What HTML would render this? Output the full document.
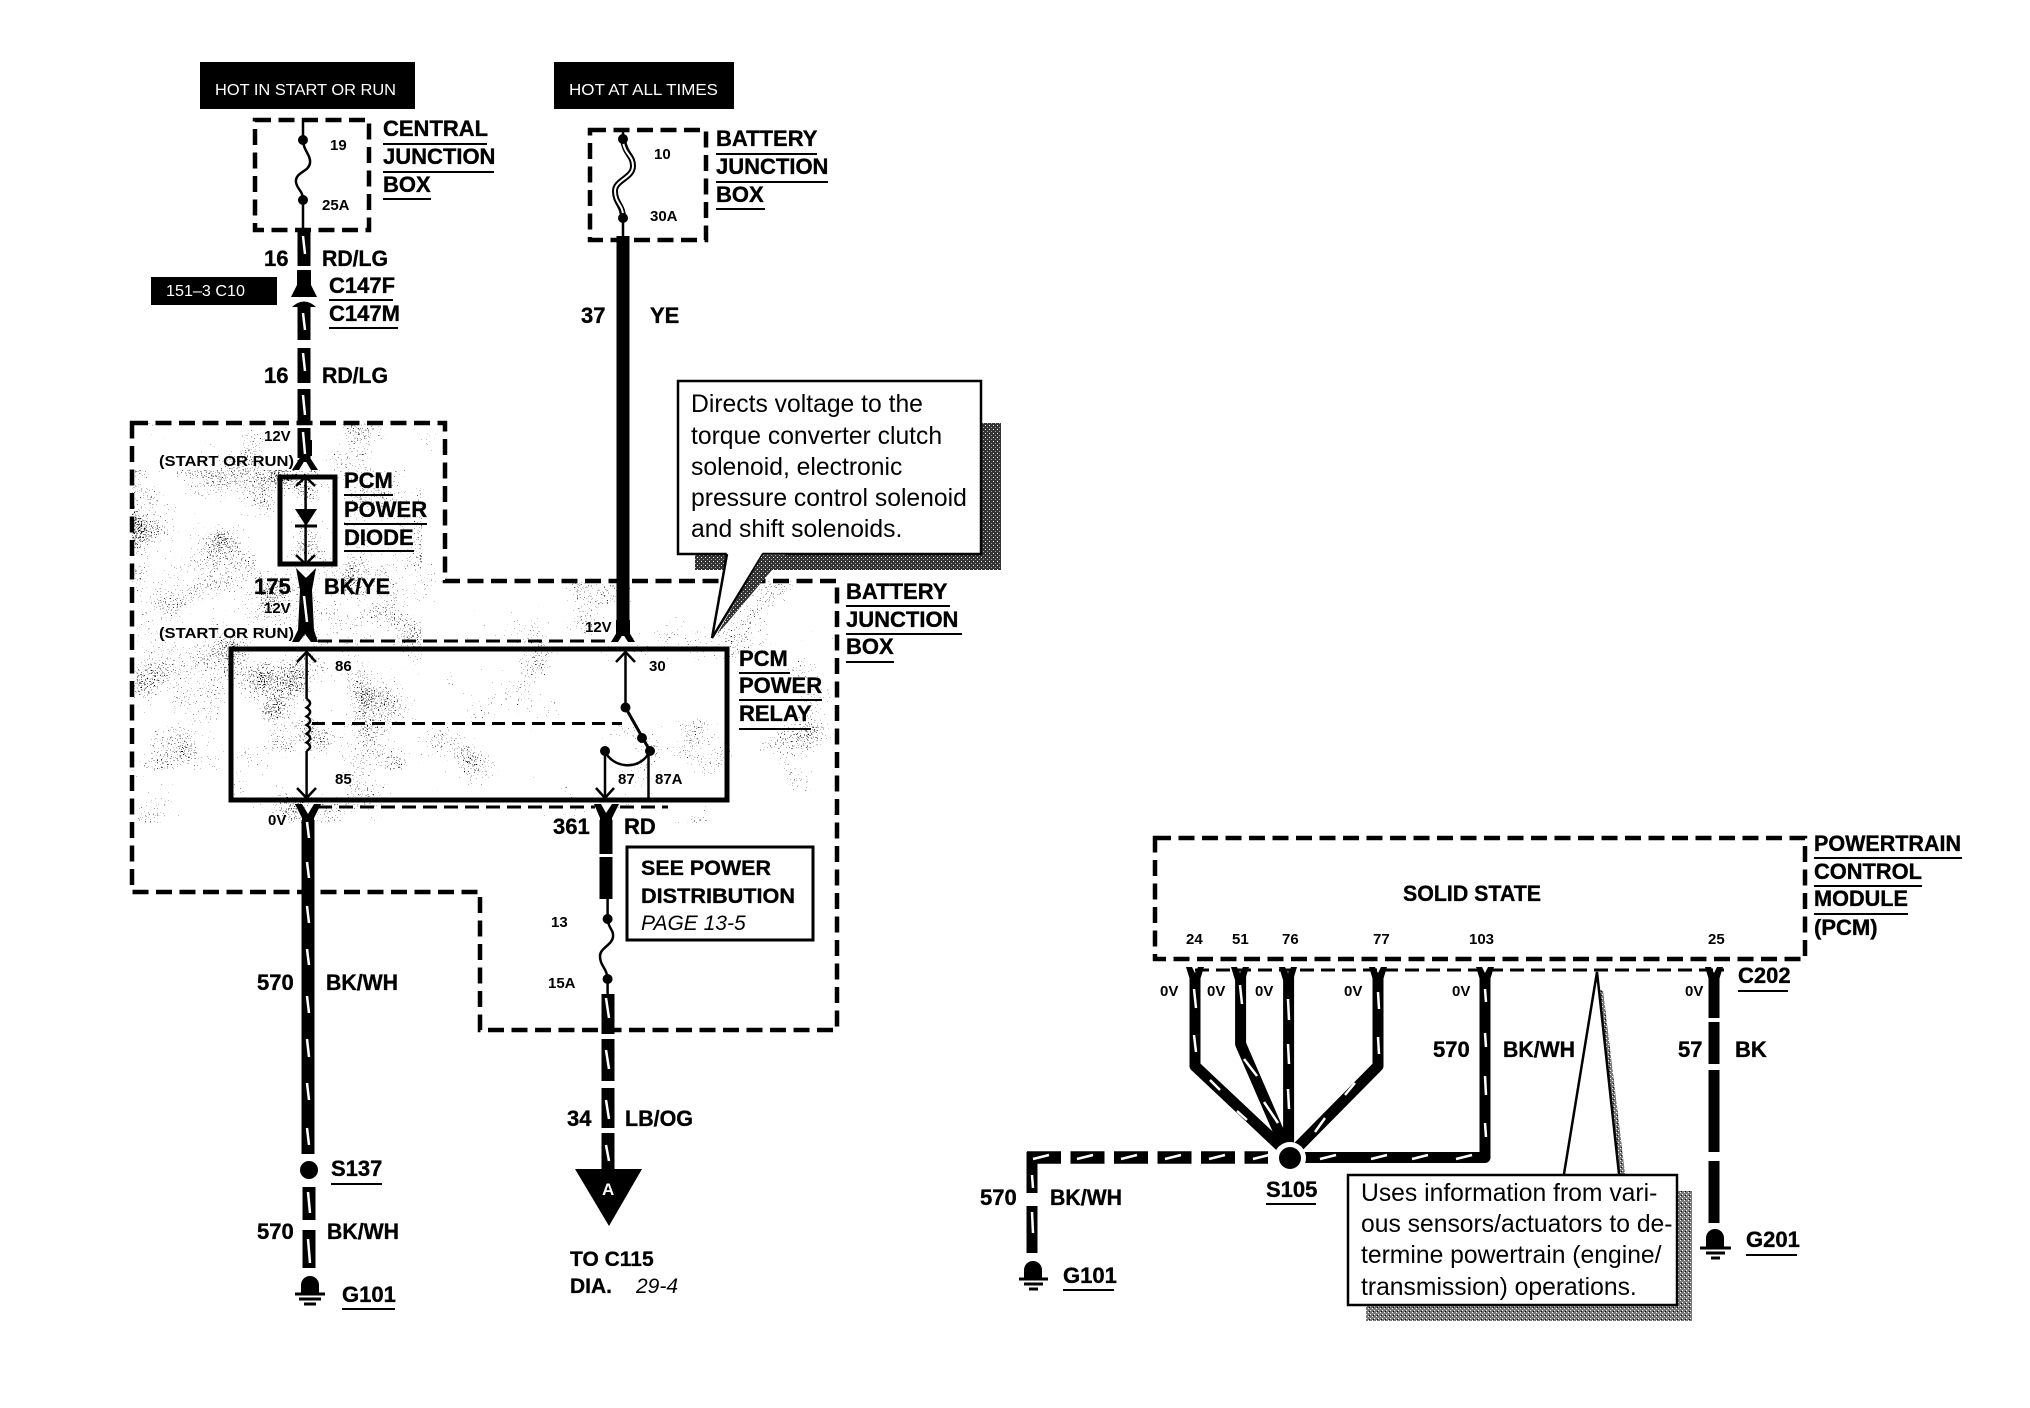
<!DOCTYPE html>
<html><head><meta charset="utf-8"><style>
html,body{margin:0;padding:0;background:#fff}
svg{display:block}
text{font-family:"Liberation Sans",sans-serif;fill:#000}
.b{font-weight:700;font-size:22px;stroke:#000;stroke-width:.35}
.m{font-weight:700;font-size:21px;stroke:#000;stroke-width:.3}
.s{font-weight:700;font-size:15px}
.h{font-size:16px;fill:#fff}
.c{font-size:24.7px}
.i{font-style:italic;font-size:21px}
.w{fill:none;stroke:#000;stroke-width:13}
.d{fill:none;stroke:#000;stroke-width:4.5;stroke-dasharray:16 7.5}
.t{fill:none;stroke:#000;stroke-width:3;stroke-dasharray:14 7}
.l{fill:none;stroke:#000;stroke-width:2.5}
.u{fill:none;stroke:#000;stroke-width:2}
</style></head><body>
<svg width="2030" height="1408" viewBox="0 0 2030 1408" xmlns="http://www.w3.org/2000/svg">
<defs>
<filter id="n1" x="0" y="0" width="100%" height="100%" color-interpolation-filters="sRGB">
<feTurbulence type="fractalNoise" baseFrequency=".7" numOctaves="2" seed="3" result="hi"/>
<feTurbulence type="fractalNoise" baseFrequency=".018" numOctaves="2" seed="11" result="lo"/>
<feComposite in="hi" in2="lo" operator="arithmetic" k2=".6" k3=".4"/>
<feColorMatrix values="0 0 0 0 0  0 0 0 0 0  0 0 0 0 0  0 0 0 60 -42.5"/>
</filter>
<filter id="n2" x="0" y="0" width="100%" height="100%" color-interpolation-filters="sRGB">
<feTurbulence type="fractalNoise" baseFrequency=".7" numOctaves="2" seed="7" result="hi"/>
<feTurbulence type="fractalNoise" baseFrequency=".02" numOctaves="2" seed="5" result="lo"/>
<feComposite in="hi" in2="lo" operator="arithmetic" k2=".6" k3=".4"/>
<feColorMatrix values="0 0 0 0 0  0 0 0 0 0  0 0 0 0 0  0 0 0 60 -39.5"/>
</filter>
<pattern id="dk" width="4" height="4" patternUnits="userSpaceOnUse"><rect width="4" height="4" fill="#333"/><rect x="1" y="1" width="1" height="1" fill="#fff"/><rect x="3" y="3" width="1" height="1" fill="#aaa"/></pattern>
<pattern id="md" width="4" height="4" patternUnits="userSpaceOnUse"><rect width="4" height="4" fill="#777"/><rect x="0" y="0" width="1" height="1" fill="#fff"/><rect x="2" y="2" width="1" height="1" fill="#fff"/><rect x="1" y="3" width="1" height="1" fill="#000"/></pattern>
<clipPath id="reg"><path d="M132 423H445V581H837V1030H480V892H132Z"/></clipPath>
</defs>

<!-- stipple -->
<g clip-path="url(#reg)">
<rect x="132" y="423" width="705" height="400" filter="url(#n1)"/>
<rect x="132" y="470" width="290" height="300" filter="url(#n2)"/>
</g>

<!-- hot boxes -->
<rect x="200" y="62" width="215" height="47" fill="#000"/>
<text class="h" x="215" y="95" textLength="181" lengthAdjust="spacingAndGlyphs">HOT IN START OR RUN</text>
<rect x="554" y="62" width="180" height="47" fill="#000"/>
<text class="h" x="569" y="95" textLength="149" lengthAdjust="spacingAndGlyphs">HOT AT ALL TIMES</text>

<!-- central JB -->
<rect x="255" y="120" width="114" height="110" class="d"/>
<path class="l" d="M303 118V140C303 150 311 155 310 163C309 172 295 172 296 182C297 190 303 190 303 200V232"/>
<circle cx="303" cy="140" r="5"/><circle cx="303" cy="200" r="5"/>
<text class="s" x="330" y="150">19</text><text class="s" x="322" y="210">25A</text>
<text class="b" x="383" y="136">CENTRAL</text><path class="u" d="M383 144H487"/>
<text class="b" x="383" y="164">JUNCTION</text><path class="u" d="M383 172H494"/>
<text class="b" x="383" y="192">BOX</text><path class="u" d="M383 199H431"/>

<!-- battery JB -->
<rect x="590" y="130" width="116" height="110" class="d"/>
<path fill="none" stroke="#000" stroke-width="6" d="M623 139C625 155 633 155 633 166C633 178 615 180 615 191C615 203 623 205 623 218"/>
<path fill="none" stroke="#fff" stroke-width="2" d="M623 142C625 155 633 155 633 166C633 178 615 180 615 191C615 203 623 205 623 215"/>
<path class="l" d="M623 128V139M623 218V240"/>
<circle cx="623" cy="139" r="5"/><circle cx="623" cy="218" r="5"/>
<text class="s" x="654" y="159">10</text><text class="s" x="650" y="221">30A</text>
<text class="b" x="716" y="146">BATTERY</text><path class="u" d="M716 154H817"/>
<text class="b" x="716" y="174">JUNCTION</text><path class="u" d="M716 182H828"/>
<text class="b" x="716" y="202">BOX</text><path class="u" d="M716 209H765"/>

<!-- wire 16 -->
<path class="w" d="M304 230V266M304 275V297M304 303V340M304 348V383M304 389V422M304 428V458"/>
<path d="M297 270H311V285L317 297H291L297 285Z"/><path d="M292 307Q304 296 316 307L310 307V314H298V307Z" fill="#000"/>
<rect x="288" y="297" width="32" height="3" fill="#fff"/>
<text class="b" x="264" y="266">16</text><text class="b" x="322" y="266" textLength="66" lengthAdjust="spacingAndGlyphs">RD/LG</text>
<rect x="151" y="277" width="126" height="28"/>
<text x="166" y="296" class="h" textLength="79" lengthAdjust="spacingAndGlyphs">151–3 C10</text>
<text class="b" x="329" y="293">C147F</text><path class="u" d="M329 300H393"/>
<text class="b" x="329" y="321">C147M</text><path class="u" d="M329 328H398"/>
<text class="b" x="264" y="383">16</text><text class="b" x="322" y="383" textLength="66" lengthAdjust="spacingAndGlyphs">RD/LG</text>

<!-- battery wire -->
<path class="w" stroke-width="14" d="M623 236V632"/>
<path d="M623 622L635 642H628L623 634L618 642H611Z M616 620H630V636H616Z"/>
<text class="b" x="581" y="323">37</text><text class="b" x="650" y="323">YE</text>
<text class="s" x="585" y="632">12V</text>

<!-- shaded dashed region -->
<path class="d" d="M132 423H445V581H837V1030H480V892H132Z"/>

<!-- callout 1 -->
<rect x="695" y="423" width="306" height="147" fill="url(#dk)"/>
<rect x="678" y="381" width="303" height="173" fill="#fff" stroke="#000" stroke-width="2.5"/>
<path d="M727 552L712 638L763 552Z" fill="#fff"/><path class="l" d="M727 554L712 638L763 554"/>
<path d="M763 554L716 636L772 570H786V554Z" fill="url(#dk)"/>
<text class="c" x="691" y="412">Directs voltage to the</text>
<text class="c" x="691" y="444">torque converter clutch</text>
<text class="c" x="691" y="475">solenoid, electronic</text>
<text class="c" x="691" y="506">pressure control solenoid</text>
<text class="c" x="691" y="537">and shift solenoids.</text>

<!-- left labels in region -->
<text class="s" x="264" y="441">12V</text>
<text class="s" x="159" y="466" textLength="135" lengthAdjust="spacingAndGlyphs">(START OR RUN)</text>
<path class="w" d="M304 460V462"/>
<path d="M305 450L318 470H311L305 460L299 470H292Z M298 440H312V456H298Z"/>
<rect x="280" y="477" width="55" height="87" fill="none" stroke="#000" stroke-width="5"/>
<path class="l" d="M305.600 477V562"/>
<path d="M296 486L305.600 477L315 486M296 555L305.600 564L315 555" fill="none" stroke="#000" stroke-width="2.500"/>
<path d="M295 509H317L306 526Z"/><path d="M295 526H317" stroke="#000" stroke-width="3"/>
<text class="b" x="344" y="488">PCM</text><path class="u" d="M344 495H393"/>
<text class="b" x="344" y="517">POWER</text><path class="u" d="M344 524H427"/>
<text class="b" x="344" y="545">DIODE</text><path class="u" d="M344 551H414"/>

<text class="b" x="254" y="594">175</text><text class="b" x="324" y="594" textLength="66" lengthAdjust="spacingAndGlyphs">BK/YE</text>
<path d="M296 568L306 578L316 568L312 590L314 630L318 642H311L305 634L299 642H292L298 630L300 590Z"/>
<path fill="none" stroke="#fff" stroke-width="2.500" d="M304 596l3 26"/>
<text class="s" x="264" y="613">12V</text>
<text class="s" x="159" y="638" textLength="135" lengthAdjust="spacingAndGlyphs">(START OR RUN)</text>
<path class="t" d="M318 641H610"/>

<!-- relay -->
<rect x="231" y="649" width="496" height="151" fill="none" stroke="#000" stroke-width="5"/>
<path class="l" d="M306.600 652V699M306.600 751V798M625.500 652V707M605 751V798M648.500 751V798"/>
<path class="l" d="M297 662L306.600 652L316 662M297 788L306.600 798L316 788M616 662L625.500 652L635 662M596 788L605 798L614 788"/>
<path class="l" d="M306.600 699q7 4 0 8.700q7 4 0 8.700q7 4 0 8.700q7 4 0 8.700q7 4 0 8.700q7 4 0 8.500"/>
<path fill="none" stroke="#000" stroke-width="3" stroke-dasharray="13 7" d="M312 723.500H622"/>
<path stroke="#000" stroke-width="3" d="M625.500 707.500L650 751"/>
<path class="l" d="M605 751C612 768 640 772 650 751"/>
<circle cx="625.500" cy="707.500" r="5"/><circle cx="642" cy="738" r="5"/><circle cx="650" cy="751" r="5"/><circle cx="605" cy="751" r="5"/>
<text class="s" x="335" y="671">86</text><text class="s" x="335" y="784">85</text>
<text class="s" x="649" y="671">30</text><text class="s" x="618" y="784">87</text><text class="s" x="655" y="784">87A</text>
<text class="b" x="739" y="666">PCM</text><path class="u" d="M739 673H790"/>
<text class="b" x="739" y="693">POWER</text><path class="u" d="M739 700H822"/>
<text class="b" x="739" y="721">RELAY</text><path class="u" d="M739 729H811"/>
<text class="b" x="846" y="599">BATTERY</text><path class="u" d="M846 606H950"/>
<text class="b" x="846" y="627">JUNCTION</text><path class="u" d="M846 634H962"/>
<text class="b" x="846" y="654">BOX</text><path class="u" d="M846 662H894"/>

<!-- below relay -->
<path class="t" d="M318 807H595M620 807H668"/>
<path d="M295 804H302L308 814L314 804H321L314 818V826H302V818Z"/>
<path d="M594 804H601L606 813L612 804H619L612 818V826H600V818Z"/>
<text class="s" x="268" y="825">0V</text>

<!-- 570 -->
<path class="w" d="M308 820V1154M309 1187V1220M309 1230V1268"/>
<text class="b" x="257" y="990">570</text><text class="b" x="326" y="990" textLength="72" lengthAdjust="spacingAndGlyphs">BK/WH</text>
<circle cx="309" cy="1170" r="9"/>
<text class="b" x="331" y="1176">S137</text><path class="u" d="M331 1184H382"/>
<text class="b" x="257" y="1239">570</text><text class="b" x="327" y="1239" textLength="72" lengthAdjust="spacingAndGlyphs">BK/WH</text>
<path d="M301 1293V1285A9 9 0 0 1 319 1285V1293Z"/><path stroke="#000" stroke-width="3" d="M295 1294H325M299 1299H321M304 1304H316"/>
<text class="b" x="342" y="1302">G101</text><path class="u" d="M342 1309H395"/>

<!-- 361 -->
<path class="w" d="M606 820V854M606 857V899"/>
<text class="b" x="553" y="834">361</text><text class="b" x="624" y="834">RD</text>
<rect x="627" y="847" width="186" height="93" fill="#fff" stroke="#000" stroke-width="3"/>
<text class="m" x="641" y="875" textLength="130" lengthAdjust="spacingAndGlyphs">SEE POWER</text>
<text class="m" x="641" y="903" textLength="154" lengthAdjust="spacingAndGlyphs">DISTRIBUTION</text>
<text class="i" x="641" y="930">PAGE 13-5</text>
<path class="l" d="M607.600 899V919C608 928 614 930 613 937C612 945 600 948 600 956C600 966 607 968 607.600 979V994"/>
<circle cx="607.600" cy="919" r="5"/><circle cx="607.600" cy="979" r="5"/>
<text class="s" x="551" y="927">13</text><text class="s" x="548" y="988">15A</text>
<path class="w" d="M608 994V1034M608 1039V1081M608 1088V1128M608 1133V1170"/>
<path d="M575 1169H642L609 1226Z"/>
<text x="602" y="1195" font-size="17" font-weight="700" style="fill:#fff">A</text>
<text class="b" x="567" y="1126">34</text><text class="b" x="625" y="1126" textLength="68" lengthAdjust="spacingAndGlyphs">LB/OG</text>
<text class="m" x="570" y="1266">TO C115</text>
<text class="m" x="570" y="1293">DIA.</text><text class="i" x="636" y="1293">29-4</text>

<!-- PCM -->
<rect x="1155" y="838" width="650" height="121" class="d"/>
<text class="b" x="1403" y="901" textLength="138" lengthAdjust="spacingAndGlyphs">SOLID STATE</text>
<text class="b" x="1814" y="851" textLength="147" lengthAdjust="spacingAndGlyphs">POWERTRAIN</text><path class="u" d="M1814 858H1962"/>
<text class="b" x="1814" y="879" textLength="108" lengthAdjust="spacingAndGlyphs">CONTROL</text><path class="u" d="M1814 886H1922"/>
<text class="b" x="1814" y="906" textLength="94" lengthAdjust="spacingAndGlyphs">MODULE</text><path class="u" d="M1814 914H1908"/>
<text class="b" x="1814" y="935">(PCM)</text>
<text class="s" x="1186" y="944">24</text><text class="s" x="1232" y="944">51</text><text class="s" x="1282" y="944">76</text><text class="s" x="1373" y="944">77</text><text class="s" x="1469" y="944">103</text><text class="s" x="1708" y="944">25</text>
<path class="t" d="M1195 970H1724"/>

<!-- pcm wires -->
<g fill="none" stroke="#000" stroke-width="11" stroke-linejoin="round">
<path d="M1195 975V1066L1280 1146"/>
<path d="M1240.600 975V1044L1284 1144"/>
<path d="M1288.600 975V1150"/>
<path d="M1378 975V1066L1298 1147"/>
<path d="M1485 975V1157.500H1300"/>
<path d="M1714 975V1018M1714 1022V1064M1714 1070V1152M1714 1161V1223"/>
</g>
<path d="M1186 967H1192L1195 973L1198 967H1204L1200 980H1190Z M1231 967H1237L1240 973L1243 967H1249L1245 980H1235Z M1279 967H1285L1288 973L1291 967H1297L1293 980H1283Z M1369 967H1375L1378 973L1381 967H1387L1383 980H1373Z M1476 967H1482L1485 973L1488 967H1494L1490 980H1480Z M1705 967H1711L1714 973L1717 967H1723L1719 980H1709Z"/>
<path fill="none" stroke="#000" stroke-width="12.500" stroke-dasharray="34 9.500" d="M1027 1157.500H1268"/>
<path fill="none" stroke="#000" stroke-width="11" d="M1032 1152V1193M1032 1206V1253"/>
<circle cx="1290" cy="1158" r="16" fill="#fff"/><circle cx="1290" cy="1158" r="11"/>
<text class="s" x="1160" y="996">0V</text><text class="s" x="1207" y="996">0V</text><text class="s" x="1255" y="996">0V</text><text class="s" x="1344" y="996">0V</text><text class="s" x="1452" y="996">0V</text><text class="s" x="1685" y="996">0V</text>
<text class="b" x="1433" y="1057">570</text><text class="b" x="1503" y="1057" textLength="72" lengthAdjust="spacingAndGlyphs">BK/WH</text>
<text class="b" x="1678" y="1057">57</text><text class="b" x="1735" y="1057">BK</text>
<text class="b" x="1738" y="983">C202</text><path class="u" d="M1738 991H1788"/>
<text class="b" x="1266" y="1197">S105</text><path class="u" d="M1266 1204H1316"/>
<text class="b" x="980" y="1205">570</text><text class="b" x="1050" y="1205" textLength="72" lengthAdjust="spacingAndGlyphs">BK/WH</text>
<path d="M1024 1278V1270A9 9 0 0 1 1042 1270V1278Z"/><path stroke="#000" stroke-width="3" d="M1019 1279H1048M1024 1284H1043M1029 1289H1038"/>
<text class="b" x="1063" y="1283">G101</text><path class="u" d="M1063 1290H1114"/>
<path d="M1706 1247V1238A9 9 0 0 1 1724 1238V1247Z"/><path stroke="#000" stroke-width="3" d="M1700 1248H1731M1706 1253H1725M1711 1258H1720"/>
<text class="b" x="1746" y="1247">G201</text><path class="u" d="M1746 1255H1797"/>

<!-- callout 2 -->
<rect x="1366" y="1191" width="326" height="130" fill="url(#md)"/>
<path d="M1600 990L1603 990L1627 1190H1620Z" fill="url(#md)"/>
<rect x="1348" y="1175" width="329" height="130" fill="#fff" stroke="#000" stroke-width="2.500"/>
<path d="M1564 1173L1597 972L1619 1173Z" fill="#fff"/><path class="l" d="M1564 1174L1597 972L1619 1174" stroke-width="1.800"/>
<text class="c" x="1361" y="1201">Uses information from vari-</text>
<text class="c" x="1361" y="1232">ous sensors/actuators to de-</text>
<text class="c" x="1361" y="1263">termine powertrain (engine/</text>
<text class="c" x="1361" y="1295">transmission) operations.</text>

<!-- white ticks -->
<path fill="none" stroke="#fff" stroke-width="2.500" d="M303 236l2 18M303 313l2 17M303 353l2 18M303 395l2 20M303 432l2 22
M307 822l2 16M307 862l2 16M307 906l2 17M307 949l2 16M307 996l2 17M307 1039l2 18M307 1083l2 17M307 1128l2 17M308 1192l2 21M308 1239l2 24
M606 998l3 20M606 1050l3 19M606 1100l3 19M606 1145l3 16
M1194 989l2 19M1194 1035l2 17M1210 1080l10 10M1237 1111l10 9
M1240 985l2 19M1244 1059l13 17M1264 1102l14 21
M1288 999l1 21M1288 1044l1 20M1288 1089l1 20
M1378 992l1 17M1378 1037l1 17M1355 1083l-10 12M1325 1118l-10 14
M1485 989l1 13M1485 1033l1 14M1485 1076l1 19M1485 1123l1 14
M1033 1159l16 -4M1077 1159l16 -4M1121 1159l16 -4M1165 1159l16 -4M1209 1159l16 -4M1253 1159l16 -4M1320 1159l16 -4M1371 1159l16 -4M1412 1159l16 -4M1456 1159l16 -4
M1032 1175l1 13M1032 1212l1 21"/>
</svg>
</body></html>
